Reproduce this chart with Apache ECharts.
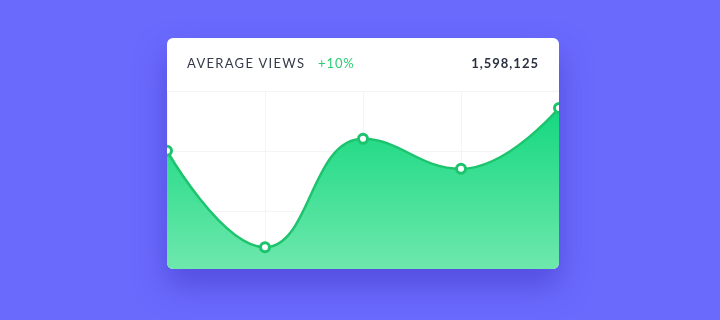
<!DOCTYPE html>
<html>
<head>
<meta charset="utf-8">
<script src="https://cdn.jsdelivr.net/npm/echarts@6/dist/echarts.min.js"></script>
<style>
  html, body { margin: 0; padding: 0; }
  body { width: 720px; height: 320px; background: #6a6afd; position: relative; overflow: hidden; font-family: Lato, "Open Sans", sans-serif; }
  #card {
    position: absolute; left: 167px; top: 38px; width: 392px; height: 231px;
    background: #fff; border-radius: 6px; overflow: hidden;
    box-shadow: 0 16px 30px rgba(60, 50, 190, 0.5);
  }
  .head { position: absolute; top: 17px; font-size: 13px; line-height: 16px; }
  #title { left: 20px; color: #353a4a; letter-spacing: 1.3px; }
  #change { left: 151px; color: #2ccb72; letter-spacing: 0.9px; }
  #total { right: 20px; color: #2a3142; font-weight: bold; letter-spacing: 1px; }
  #main { position: absolute; left: 0; top: 0; width: 392px; height: 234px; }
</style>
</head>
<body>
<div id="card">
  <div id="main"></div>
  <div class="head" id="title">AVERAGE VIEWS</div>
  <div class="head" id="change">+10%</div>
  <div class="head" id="total">1,598,125</div>
</div>
<script>
// chart values
const categories = ['1', '2', '3', '4', '5'];
const viewValues = [201, 41, 221, 171, 272];
const yTicks = [0, 100, 200, 300];

let plot = echarts.init(document.querySelector('#main'));

const option = {
    animation: false,
    grid: { left: 0, right: 0, top: 53, bottom: 0 },
    xAxis: {
        type: 'category',
        data: categories,
        boundaryGap: false,
        axisLine: { show: false },
        axisTick: { show: false },
        axisLabel: { show: false },
        splitLine: { show: true, lineStyle: { color: '#f4f4f6', width: 1 } }
    },
    yAxis: {
        type: 'value',
        min: yTicks[0],
        max: yTicks[yTicks.length - 1],
        interval: 100,
        axisLine: { show: false },
        axisTick: { show: false },
        axisLabel: { show: false },
        splitLine: { lineStyle: { color: '#f4f4f6', width: 1 } }
    },
    series: [{
        type: 'line',
        data: viewValues,
        smooth: 0.45,
        symbol: 'circle',
        symbolSize: 9,
        itemStyle: { color: '#ffffff', borderColor: '#1dc46d', borderWidth: 3 },
        lineStyle: { color: '#1dc46d', width: 2.5 },
        areaStyle: {
            color: new echarts.graphic.LinearGradient(0, 0, 0, 1, [
                { offset: 0, color: '#14d87f' },
                { offset: 1, color: '#70e8ae' }
            ]),
            opacity: 1
        }
    }]
};

plot.setOption(option);
</script>
</body>
</html>
